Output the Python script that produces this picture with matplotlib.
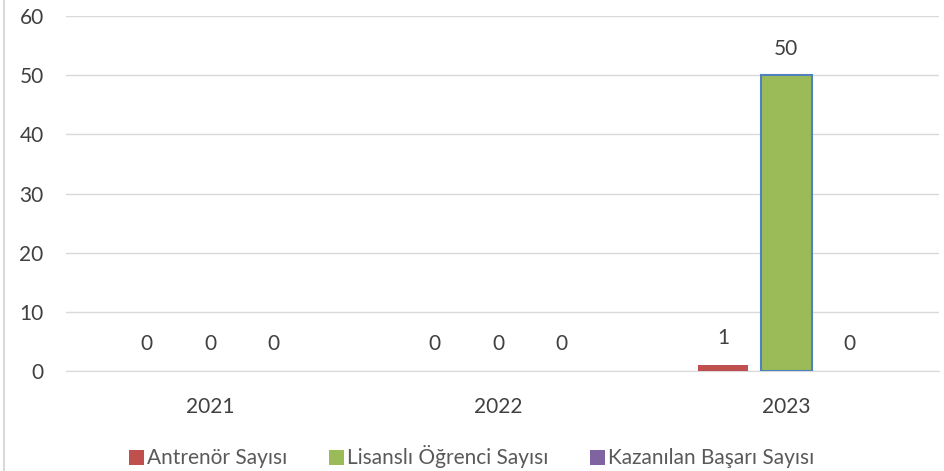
import matplotlib.pyplot as plt
import numpy as np
from matplotlib.lines import Line2D
from matplotlib.patches import Patch

years = ["2021", "2022", "2023"]
antrenor = [0, 0, 1]
lisansli = [0, 0, 50]
basari = [0, 0, 0]

series_names = ["Antrenör Sayısı", "Lisanslı Öğrenci Sayısı", "Kazanılan Başarı Sayısı"]
colors = ["#C0504D", "#9BBB59", "#8064A2"]
edges = ["none", "#4F81BD", "none"]

plt.rcParams['font.family'] = ['Lato', 'DejaVu Sans']
text_color = "#404040"
fs = 15

fig = plt.figure(figsize=(9.45, 4.71), dpi=100)
ax = fig.add_axes([0.0698, 0.2123, 0.9239, 0.7537])

x = np.arange(len(years))
width = 0.175
offsets = [-0.22, 0.0, 0.22]

for vals, off, c, e in zip([antrenor, lisansli, basari], offsets, colors, edges):
    bars = ax.bar(x + off, vals, width, color=c, edgecolor=e, zorder=3)
    for b, v in zip(bars, vals):
        # no outline on empty bars
        b.set_linewidth(1.5 if (e != "none" and v > 0) else 0)
        ax.annotate(str(v), (b.get_x() + b.get_width() / 2, v),
                    xytext=(0, 12), textcoords="offset points",
                    ha="center", va="bottom", fontsize=fs, color=text_color)

ax.set_xlim(-0.5, 2.53)
ax.set_ylim(0, 60)
ax.set_yticks(range(0, 61, 10))
ax.set_xticks(x)
ax.set_xticklabels(years)
ax.grid(axis="y", color="#D9D9D9", linewidth=1, zorder=0)
for s in ["top", "right", "left"]:
    ax.spines[s].set_visible(False)
ax.spines["bottom"].set_color("#D9D9D9")
ax.tick_params(axis="y", length=0, pad=16, labelsize=fs, labelcolor=text_color)
ax.tick_params(axis="x", length=0, pad=19, labelsize=fs, labelcolor=text_color)

handles = [Patch(facecolor=c, edgecolor="none") for c in colors]
fig.legend(handles, series_names, loc="center", bbox_to_anchor=(0.499, 0.03),
           ncol=3, frameon=False, fontsize=fs, handlelength=0.72, handleheight=0.72,
           handletextpad=0.15, columnspacing=2.0, labelcolor="#595959",
           borderpad=0, borderaxespad=0)

fig.add_artist(Line2D([0.004, 0.004], [0, 1], transform=fig.transFigure,
                      color="#D9D9D9", linewidth=1.5))

fig.savefig("out.png", dpi=100)
